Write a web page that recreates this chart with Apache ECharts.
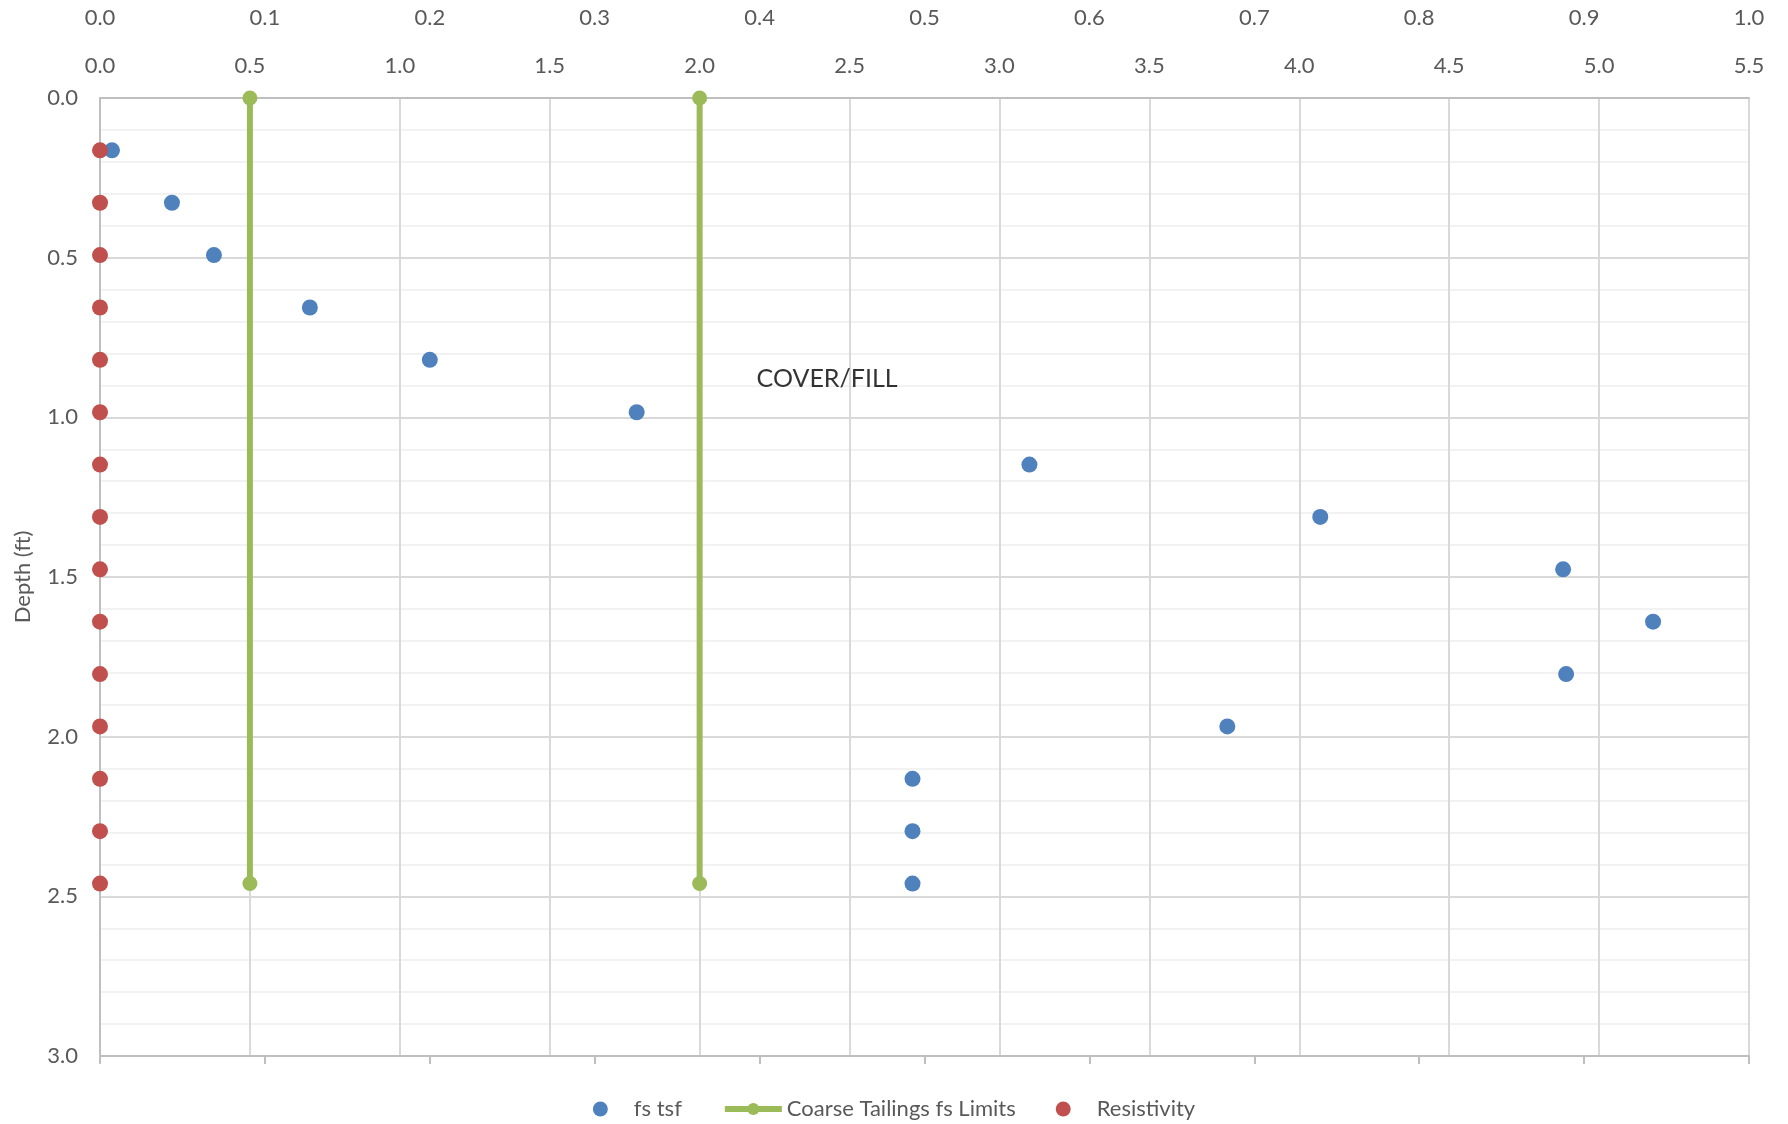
<!DOCTYPE html>
<html><head><meta charset="utf-8">
<script src="https://cdn.jsdelivr.net/npm/echarts@6/dist/echarts.min.js"></script>
<style>html,body{margin:0;padding:0;background:#fff}#c{width:1788px;height:1124px}</style>
</head><body><div id="c"></div>
<script>
const depths = [0.164, 0.328, 0.492, 0.656, 0.820, 0.984, 1.148, 1.312, 1.476, 1.640, 1.804, 1.968, 2.132, 2.296, 2.460];
const fsTsf = [0.04, 0.24, 0.38, 0.70, 1.10, 1.79, 3.10, 4.07, 4.88, 5.18, 4.89, 3.76, 2.71, 2.71, 2.71];
const resistivity = [0, 0, 0, 0, 0, 0, 0, 0, 0, 0, 0, 0, 0, 0, 0];
const limitValues = [0.5, 2.0];
const limitDepths = [0, 2.46];
const annotationText = 'COVER/FILL';
const annotationPos = [2.19, 0.88];

const FONT = 'Lato, "Open Sans", sans-serif';
const GREY = '#595959';
const fmt = v => v.toFixed(1);

const chart = echarts.init(document.getElementById('c'), null, {renderer: 'canvas'});

const limitSeries = limitValues.map(v => ({
  name: 'Coarse Tailings fs Limits',
  type: 'line',
  xAxisIndex: 0,
  data: limitDepths.map(d => [v, d]),
  symbol: 'circle',
  symbolSize: 15,
  itemStyle: {color: '#9bbb59', opacity: 1},
  lineStyle: {color: '#9bbb59', width: 6},
  z: 3
}));

const option = {
  backgroundColor: '#fff',
  animation: false,
  textStyle: {fontFamily: FONT},
  grid: {left: 100, right: 39, top: 98, bottom: 68, containLabel: false},
  legend: {
    data: ['fs tsf', {name: 'Coarse Tailings fs Limits', lineStyle: {width: 6}}, 'Resistivity'],
    top: 1093,
    left: 'center',
    itemWidth: 57,
    itemHeight: 15,
    itemGap: 40,
    textStyle: {fontSize: 22, color: GREY, fontFamily: FONT}
  },
  xAxis: [
    {
      type: 'value', position: 'top', min: 0, max: 5.5, interval: 0.5,
      axisLine: {show: true, onZero: false, lineStyle: {color: '#bfbfbf', width: 2}},
      axisTick: {show: false},
      axisLabel: {fontSize: 22, color: GREY, margin: 21, formatter: fmt, fontFamily: FONT},
      splitLine: {show: true, lineStyle: {color: '#d9d9d9', width: 2}}
    },
    {
      type: 'value', position: 'top', offset: 48, min: 0, max: 1, interval: 0.1,
      axisLine: {show: false, onZero: false},
      axisTick: {show: false},
      axisLabel: {fontSize: 22, color: GREY, margin: 21, formatter: fmt, fontFamily: FONT},
      splitLine: {show: false}
    },
    {
      type: 'value', position: 'bottom', min: 0, max: 1, interval: 0.1,
      axisLine: {show: true, onZero: false, lineStyle: {color: '#bfbfbf', width: 2}},
      axisTick: {show: true, length: 8, lineStyle: {color: '#bfbfbf', width: 2}},
      axisLabel: {show: false},
      splitLine: {show: false}
    }
  ],
  yAxis: {
    type: 'value', inverse: true, min: 0, max: 3, interval: 0.5,
    name: 'Depth (ft)', nameLocation: 'middle', nameGap: 66,
    nameTextStyle: {fontSize: 22, color: GREY, fontFamily: FONT},
    axisLine: {show: true, onZero: false, lineStyle: {color: '#bfbfbf', width: 2}},
    axisTick: {show: false},
    axisLabel: {fontSize: 22, color: GREY, margin: 22, formatter: fmt, fontFamily: FONT},
    splitLine: {show: true, lineStyle: {color: '#d9d9d9', width: 2}},
    minorTick: {show: false, splitNumber: 5},
    minorSplitLine: {show: true, lineStyle: {color: '#f2f2f2', width: 2}}
  },
  series: [
    {
      name: 'fs tsf', type: 'scatter', xAxisIndex: 0,
      data: depths.map((d, i) => [fsTsf[i], d]),
      symbol: 'circle', symbolSize: 16,
      itemStyle: {color: '#4f81bd', opacity: 1}, z: 4
    },
    ...limitSeries,
    {
      name: 'Resistivity', type: 'scatter', xAxisIndex: 2,
      data: depths.map((d, i) => [resistivity[i], d]),
      symbol: 'circle', symbolSize: 16,
      itemStyle: {color: '#c0504d', opacity: 1}, z: 5
    },
    {
      name: 'annotation', type: 'scatter', xAxisIndex: 0,
      data: [annotationPos], symbolSize: 0, silent: true,
      label: {show: true, position: 'right', distance: 0, formatter: annotationText,
        fontSize: 25, color: '#000', fontFamily: FONT}
    }
  ]
};
chart.setOption(option);
</script>
</body></html>
